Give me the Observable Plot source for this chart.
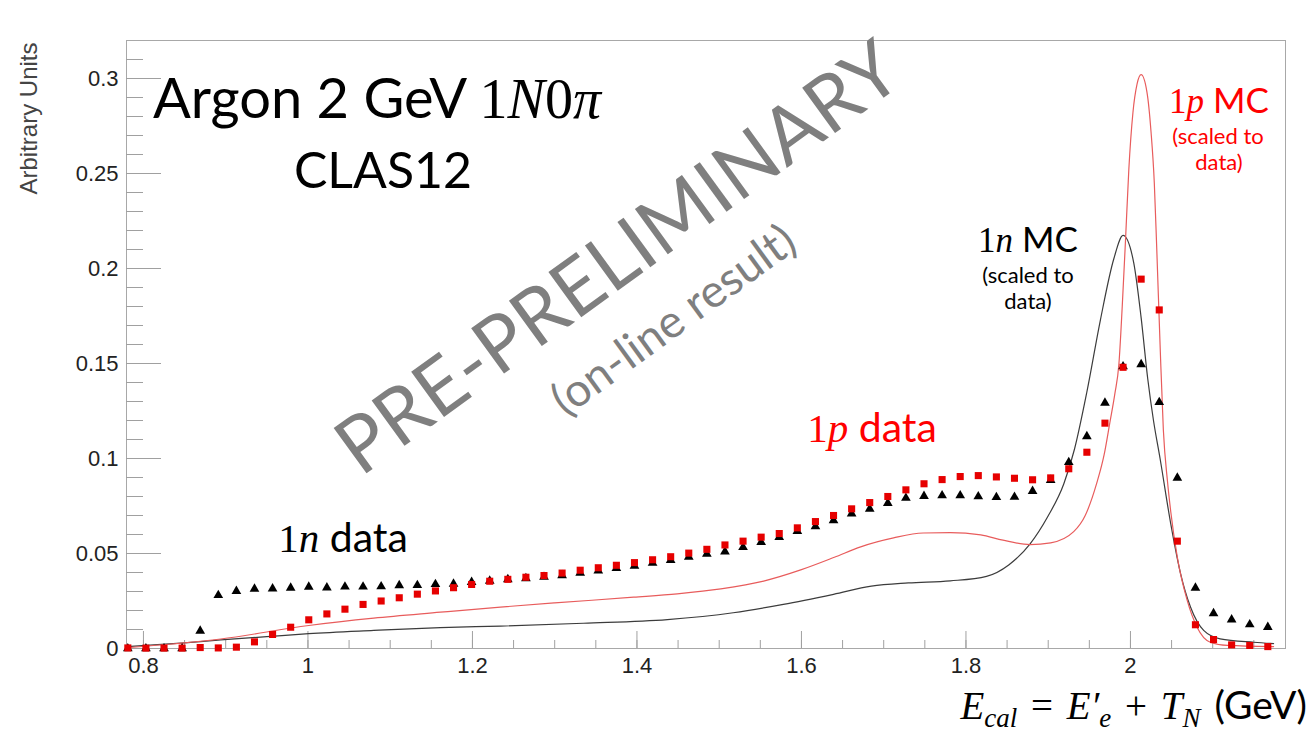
<!DOCTYPE html>
<html><head><meta charset="utf-8">
<script src="https://cdn.jsdelivr.net/npm/d3@7"></script>
<script src="https://cdn.jsdelivr.net/npm/@observablehq/plot@0.6"></script>
<style>
html,body{margin:0;padding:0;background:#fff;}
#chart{width:1313px;height:733px;}
text{white-space:pre;}
</style></head><body><div id="chart"></div>
<script>
// ---- data ----
const binCenters = [
  0.781, 0.803, 0.825, 0.847, 0.869, 0.891, 0.913, 0.935, 0.957, 0.979,
  1.001, 1.023, 1.045, 1.067, 1.089, 1.111, 1.133, 1.155, 1.177, 1.199,
  1.221, 1.243, 1.265, 1.287, 1.309, 1.331, 1.353, 1.375, 1.397, 1.419,
  1.441, 1.463, 1.485, 1.507, 1.529, 1.551, 1.573, 1.595, 1.617, 1.639,
  1.661, 1.683, 1.705, 1.727, 1.749, 1.771, 1.793, 1.815, 1.837, 1.859,
  1.881, 1.903, 1.925, 1.947, 1.969, 1.991, 2.013, 2.035, 2.057, 2.079,
  2.101, 2.123, 2.145, 2.167];
const data1p = [
  0.0003, 0.0002, 0.0002, 0.0002, 0.0005, 0.0003, 0.0007, 0.0035, 0.0074, 0.0112,
  0.0151, 0.0182, 0.0207, 0.0232, 0.0250, 0.0267, 0.0286, 0.0303, 0.0320, 0.0337,
  0.0354, 0.0364, 0.0375, 0.0384, 0.0397, 0.0412, 0.0425, 0.0438, 0.0452, 0.0467,
  0.0483, 0.0502, 0.0522, 0.0545, 0.0565, 0.0586, 0.0605, 0.0635, 0.0668, 0.0700,
  0.0735, 0.0768, 0.0800, 0.0835, 0.0867, 0.0889, 0.0905, 0.0910, 0.0903, 0.0896,
  0.0888, 0.0898, 0.0946, 0.1033, 0.1186, 0.1480, 0.1944, 0.1782, 0.0565, 0.0125,
  0.0047, 0.0019, 0.0016, 0.0010];
const data1n = [
  0.0000, 0.0000, 0.0000, 0.0000, 0.0093, 0.0280, 0.0302, 0.0314, 0.0315, 0.0319,
  0.0324, 0.0320, 0.0325, 0.0325, 0.0326, 0.0332, 0.0333, 0.0338, 0.0340, 0.0349,
  0.0356, 0.0364, 0.0369, 0.0376, 0.0385, 0.0398, 0.0410, 0.0422, 0.0435, 0.0450,
  0.0465, 0.0482, 0.0498, 0.0510, 0.0533, 0.0560, 0.0586, 0.0618, 0.0642, 0.0674,
  0.0710, 0.0735, 0.0765, 0.0792, 0.0802, 0.0805, 0.0805, 0.0800, 0.0796, 0.0797,
  0.0828, 0.0886, 0.0980, 0.1116, 0.1293, 0.1484, 0.1495, 0.1296, 0.0898, 0.0319,
  0.0185, 0.0152, 0.0126, 0.0112];
const mc1nX = [0.780, 0.850, 0.894, 0.950, 1.001, 1.080, 1.161, 1.234, 1.335, 1.437,
  1.517, 1.578, 1.639, 1.685, 1.730, 1.781, 1.825, 1.852, 1.878, 1.899,
  1.919, 1.932, 1.947, 1.9635, 1.9797, 1.991, 2.004, 2.013, 2.021, 2.028,
  2.036, 2.049, 2.061, 2.073, 2.089, 2.109, 2.150, 2.174];
const mc1nY = [0.0010, 0.0030, 0.0045, 0.0062, 0.0078, 0.0095, 0.0110, 0.0118, 0.0133, 0.0152,
  0.0188, 0.0232, 0.0285, 0.0328, 0.0345, 0.0356, 0.0380, 0.0440, 0.0551, 0.0691,
  0.0867, 0.1050, 0.1350, 0.1730, 0.2050, 0.2174, 0.2030, 0.1740, 0.1420, 0.1200,
  0.1000, 0.0656, 0.0393, 0.0218, 0.0095, 0.0051, 0.0033, 0.0026];
const mc1pX = [0.780, 0.894, 1.001, 1.080, 1.161, 1.234, 1.300, 1.396, 1.449, 1.502,
  1.554, 1.600, 1.640, 1.672, 1.712, 1.748, 1.781, 1.818, 1.845, 1.878,
  1.903, 1.931, 1.945, 1.959, 1.968, 1.975, 1.981, 1.986, 1.990, 1.994,
  1.998, 2.003, 2.008, 2.013, 2.020, 2.025, 2.029, 2.032, 2.036, 2.040,
  2.045, 2.049, 2.057, 2.069, 2.081, 2.097, 2.118, 2.174];
const mc1pY = [0.0004, 0.0050, 0.0121, 0.0160, 0.0191, 0.0218, 0.0240, 0.0270, 0.0288, 0.0314,
  0.0355, 0.0415, 0.0480, 0.0535, 0.0582, 0.0608, 0.0610, 0.0598, 0.0570, 0.0547,
  0.0556, 0.0615, 0.0700, 0.0870, 0.1020, 0.1190, 0.1340, 0.1500, 0.1800, 0.2150,
  0.2520, 0.2820, 0.2970, 0.3020, 0.2930, 0.2720, 0.2450, 0.2100, 0.1600, 0.1150,
  0.0880, 0.0720, 0.0480, 0.0253, 0.0112, 0.0033, 0.0016, 0.0010];
const xTickLabels = [0.8, 1, 1.2, 1.4, 1.6, 1.8, 2];
const yTickLabels = [0, 0.05, 0.1, 0.15, 0.2, 0.25, 0.3];

// ---- tables built from the arrays ----
const pts1p = binCenters.map((x, i) => ({x, y: data1p[i]}));
const pts1n = binCenters.map((x, i) => ({x, y: data1n[i]}));
const line1n = mc1nX.map((x, i) => ({x, y: mc1nY[i]}));
const line1p = mc1pX.map((x, i) => ({x, y: mc1pY[i]}));
const xMinor = d3.range(0, 28).map(i => +(0.8 + 0.05 * i).toFixed(2));
const yMinor = d3.range(0, 32).map(i => +(0.01 * i).toFixed(2));

const W = 1313, H = 733, mL = 126, mR = 28, mT = 40, mB = 85;
const innerW = W - mL - mR, innerH = H - mT - mB;
const SANS = "Lato, 'Open Sans', sans-serif";
const SERIF = "'Liberation Serif', 'DejaVu Serif', serif";
const TICKC = "#a0a0a0";

const plot = Plot.plot({
  width: W, height: H,
  marginLeft: mL, marginRight: mR, marginTop: mT, marginBottom: mB,
  x: {domain: [0.7794, 2.1885]},
  y: {domain: [0, 0.32]},
  style: {fontFamily: "'Liberation Sans', Arial, sans-serif", background: "#fff", color: "#222"},
  marks: [
    Plot.frame({stroke: "#a8a8a8"}),
    Plot.ruleX(xMinor, {x: d => d, insetTop: innerH - 8, stroke: TICKC}),
    Plot.ruleX(xTickLabels, {x: d => d, insetTop: innerH - 17, stroke: TICKC}),
    Plot.ruleY(yMinor, {y: d => d, insetRight: innerW - 17, stroke: TICKC}),
    Plot.ruleY(yTickLabels, {y: d => d, insetRight: innerW - 35, stroke: TICKC}),
    Plot.axisX(xTickLabels, {tickSize: 0, tickPadding: 9, fontSize: 22, label: null, tickFormat: d => String(d)}),
    Plot.axisY(yTickLabels, {tickSize: 0, tickPadding: 8, fontSize: 22, label: null, tickFormat: d => String(d)}),
    Plot.line(line1n, {x: "x", y: "y", stroke: "#3c3c3c", strokeWidth: 1.2, curve: "monotone-x"}),
    Plot.line(line1p, {x: "x", y: "y", stroke: "#e85c5c", strokeWidth: 1.2, curve: "monotone-x"}),
    Plot.dot(pts1n, {x: "x", y: "y", symbol: "triangle", r: 3.6, fill: "#000"}),
    Plot.dot(pts1p, {x: "x", y: "y", symbol: "square", r: 4.0, fill: "#e60000"})
  ]
});
document.getElementById("chart").appendChild(plot);

// ---- annotations ----
const svg = d3.select(plot);
const g = svg.append("g");
function addText(x, y, parts, {anchor = "start", size = 38, fill = "#000", rotate = 0, family = SANS, baseline = null} = {}) {
  const t = g.append("text").attr("x", x).attr("y", y).attr("text-anchor", anchor)
    .attr("font-size", size).attr("fill", fill).attr("font-family", family);
  if (baseline) t.attr("dominant-baseline", baseline);
  if (rotate) t.attr("transform", `rotate(${rotate},${x},${y})`);
  for (const p of parts) {
    const s = t.append("tspan").text(p.t);
    if (p.serif) s.attr("font-family", SERIF);
    if (p.italic) s.attr("font-style", "italic");
    if (p.size) s.attr("font-size", p.size);
    if (p.dy) s.attr("dy", p.dy);
    if (p.dx) s.attr("dx", p.dx);
  }
  return t;
}

addText(37, 118.5, [{t: "Arbitrary Units"}], {anchor: "middle", size: 24, rotate: -90, family: "'Liberation Sans', Arial, sans-serif", fill: "#444"});

addText(377, 118, [{t: "Argon 2 GeV "}, {t: "1", serif: true}, {t: "N", serif: true, italic: true}, {t: "0", serif: true}, {t: "π", serif: true, italic: true}], {anchor: "middle", size: 56});
addText(383, 188, [{t: "CLAS12"}], {anchor: "middle", size: 50});

addText(343, 552, [{t: "1", serif: true}, {t: "n", serif: true, italic: true}, {t: " data"}], {anchor: "middle", size: 41});
addText(872, 442, [{t: "1", serif: true}, {t: "p", serif: true, italic: true}, {t: " data"}], {anchor: "middle", size: 41, fill: "#ff0000"});

addText(1028, 252, [{t: "1", serif: true}, {t: "n", serif: true, italic: true}, {t: " MC"}], {anchor: "middle", size: 35});
addText(1028, 283, [{t: "(scaled to"}], {anchor: "middle", size: 22});
addText(1028, 309, [{t: "data)"}], {anchor: "middle", size: 22});

addText(1219, 113, [{t: "1", serif: true}, {t: "p", serif: true, italic: true}, {t: " MC"}], {anchor: "middle", size: 35, fill: "#ff0000"});
addText(1218, 144, [{t: "(scaled to"}], {anchor: "middle", size: 22, fill: "#ff0000"});
addText(1219, 170, [{t: "data)"}], {anchor: "middle", size: 22, fill: "#ff0000"});

addText(1307, 719, [
  {t: "E", serif: true, italic: true},
  {t: "cal", serif: true, italic: true, size: 27, dy: 8},
  {t: " = ", serif: true, dy: -8, dx: 4},
  {t: "E′", serif: true, italic: true, dx: 4},
  {t: "e", serif: true, italic: true, size: 27, dy: 8},
  {t: " + ", serif: true, dy: -8, dx: 4},
  {t: "T", serif: true, italic: true, dx: 4},
  {t: "N", serif: true, italic: true, size: 27, dy: 8},
  {t: " (GeV)", dy: -8, dx: 4}
], {anchor: "end", size: 39});

addText(616, 255, [{t: "PRE-PRELIMINARY"}], {anchor: "middle", size: 78, fill: "#7f7f7f", rotate: -36, baseline: "central"});
addText(672, 318, [{t: "(on-line result)"}], {anchor: "middle", size: 46, fill: "#7f7f7f", rotate: -36, baseline: "central"});
</script></body></html>
